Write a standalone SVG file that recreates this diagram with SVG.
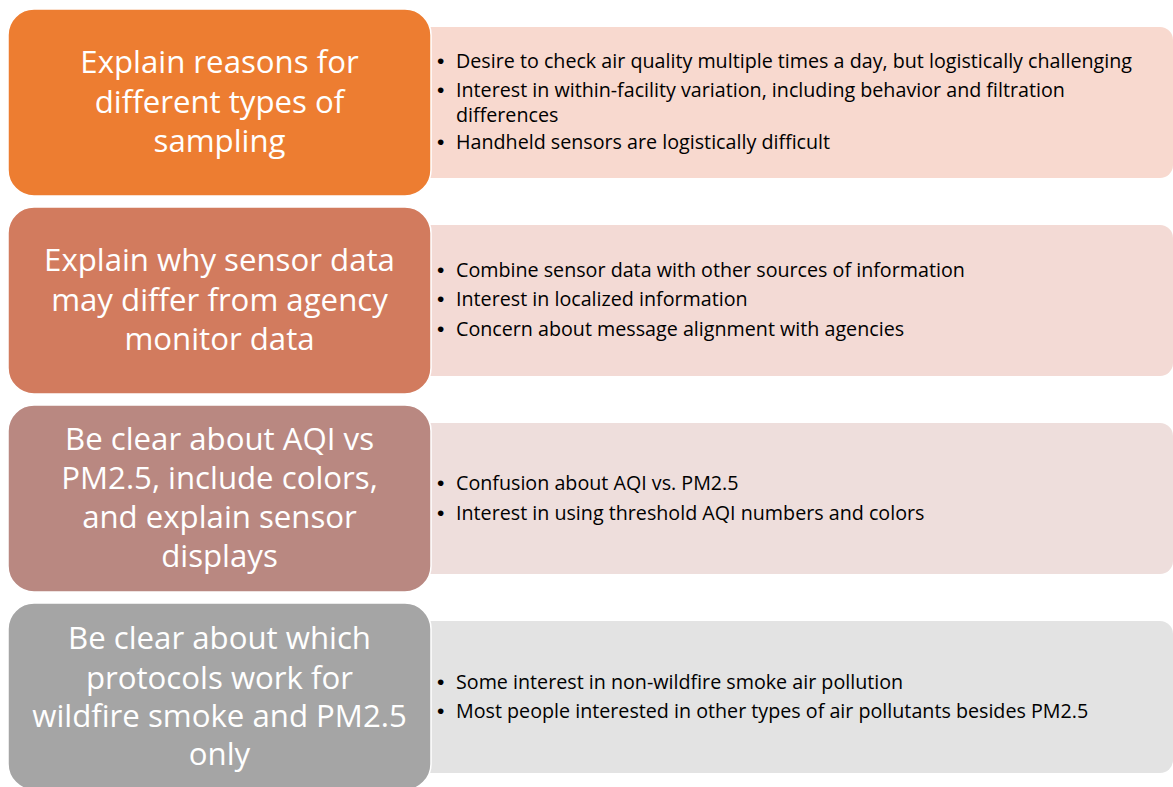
<svg xmlns="http://www.w3.org/2000/svg" width="1173" height="787" viewBox="0 0 1173 787">
<style>
.lt{font-family:"Open Sans","Noto Sans",sans-serif;font-size:31.2px;fill:#ffffff;text-anchor:middle}
.rt{font-family:"Open Sans","Noto Sans",sans-serif;font-size:19.7px;fill:#000000}
.bu{font-family:"Liberation Sans",Arial,sans-serif;font-size:21px;fill:#000000}
.lb{stroke:#ffffff;stroke-width:1.5}
</style>
<rect width="1173" height="787" fill="#ffffff"/>
<g id="connectors"></g>
<g id="row1">
<rect x="400" y="27" width="773" height="151" rx="13" fill="#F8D9CF"/>
<rect class="lb" x="8" y="9" width="423" height="187" rx="26" fill="#ED7D31"/>
<text class="lt"><tspan x="219.5" y="73">Explain reasons for</tspan><tspan x="219.5" y="113">different types of</tspan><tspan x="219.5" y="152">sampling</tspan></text>
<text class="bu"><tspan x="437" y="68">•</tspan><tspan x="437" y="97">•</tspan><tspan x="437" y="149">•</tspan></text>
<text class="rt"><tspan x="456" y="68">Desire to check air quality multiple times a day, but logistically challenging</tspan><tspan x="456" y="97">Interest in within-facility variation, including behavior and filtration</tspan><tspan x="456" y="122">differences</tspan><tspan x="456" y="149">Handheld sensors are logistically difficult</tspan></text>
</g>
<g id="row2">
<rect x="400" y="225" width="773" height="151" rx="13" fill="#F3DAD5"/>
<rect class="lb" x="8" y="207" width="423" height="187" rx="26" fill="#D27B5E"/>
<text class="lt"><tspan x="219.5" y="271">Explain why sensor data</tspan><tspan x="219.5" y="311">may differ from agency</tspan><tspan x="219.5" y="350">monitor data</tspan></text>
<text class="bu"><tspan x="437" y="277">•</tspan><tspan x="437" y="306">•</tspan><tspan x="437" y="336">•</tspan></text>
<text class="rt"><tspan x="456" y="277">Combine sensor data with other sources of information</tspan><tspan x="456" y="306">Interest in localized information</tspan><tspan x="456" y="336">Concern about message alignment with agencies</tspan></text>
</g>
<g id="row3">
<rect x="400" y="423" width="773" height="151" rx="13" fill="#EEDEDC"/>
<rect class="lb" x="8" y="405" width="423" height="187" rx="26" fill="#B98881"/>
<text class="lt"><tspan x="219.5" y="450">Be clear about AQI vs</tspan><tspan x="219.5" y="489">PM2.5, include colors,</tspan><tspan x="219.5" y="528">and explain sensor</tspan><tspan x="219.5" y="567">displays</tspan></text>
<text class="bu"><tspan x="437" y="490">•</tspan><tspan x="437" y="520">•</tspan></text>
<text class="rt"><tspan x="456" y="490">Confusion about AQI vs. PM2.5</tspan><tspan x="456" y="520">Interest in using threshold AQI numbers and colors</tspan></text>
</g>
<g id="row4">
<rect x="400" y="621" width="773" height="152" rx="13" fill="#E3E3E3"/>
<rect class="lb" x="8" y="603" width="423" height="187" rx="26" fill="#A5A5A5"/>
<text class="lt"><tspan x="219.5" y="649">Be clear about which</tspan><tspan x="219.5" y="689">protocols work for</tspan><tspan x="219.5" y="727">wildfire smoke and PM2.5</tspan><tspan x="219.5" y="765">only</tspan></text>
<text class="bu"><tspan x="437" y="689">•</tspan><tspan x="437" y="718">•</tspan></text>
<text class="rt"><tspan x="456" y="689">Some interest in non-wildfire smoke air pollution</tspan><tspan x="456" y="718">Most people interested in other types of air pollutants besides PM2.5</tspan></text>
</g>
</svg>
